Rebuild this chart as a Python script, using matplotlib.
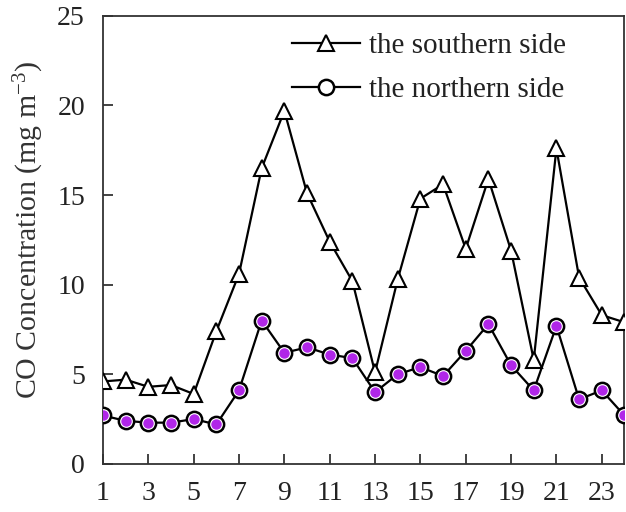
import matplotlib
matplotlib.use("Agg")
import matplotlib.pyplot as plt

hours = list(range(1, 25))
southern = [4.6, 4.7, 4.3, 4.4, 3.9, 7.4, 10.6, 16.5, 19.7, 15.1, 12.4, 10.2,
            5.1, 10.3, 14.8, 15.6, 12.0, 15.9, 11.9, 5.8, 17.6, 10.4, 8.3, 7.9]
northern = [2.7, 2.4, 2.3, 2.3, 2.5, 2.2, 4.1, 8.0, 6.2, 6.5, 6.1, 5.9,
            4.0, 5.0, 5.4, 4.9, 6.3, 7.8, 5.5, 4.1, 7.7, 3.6, 4.1, 2.7]
xticks = list(range(1, 24, 2))
yticks = [0, 5, 10, 15, 20, 25]

plt.rcParams['font.family'] = ['Liberation Serif', 'DejaVu Serif']
plt.rcParams['mathtext.fontset'] = 'custom'
plt.rcParams['mathtext.rm'] = 'Liberation Serif'
plt.rcParams['mathtext.it'] = 'Liberation Serif:italic'

fig = plt.figure(figsize=(6.26, 5.12), dpi=100)
ax = fig.add_axes([0.1645, 0.094, 0.833, 0.875])

ax.plot(hours, southern, color='black', lw=1.6, marker='^', ms=12,
        mfc='white', mec='black', mew=1.5, label='the southern side', zorder=3)
ax.plot(hours, northern, color='black', lw=1.6, marker='o', ms=11,
        mfc='white', mec='black', mew=1.8, label='the northern side', zorder=3)
ax.plot(hours, northern, ls='none', marker='o', ms=6.5, mfc='#b026e8',
        mec='#b026e8', zorder=4)

ax.set_xlim(1, 24)
ax.set_ylim(0, 25)
ax.set_xticks(xticks)
ax.set_yticks(yticks)
ax.tick_params(direction='in', length=7, width=1.2, labelsize=20, pad=13,
               colors='#222222')
ax.tick_params(axis='x', pad=12)
for s in ax.spines.values():
    s.set_linewidth(1.3)
    s.set_color('#333333')
ax.set_ylabel('CO Concentration (mg m$^{-3}$)', fontsize=21.5, color='#333333',
              labelpad=8)
ax.yaxis.label.set_y(0.522)

leg = ax.legend(loc='upper left', frameon=False, fontsize=21,
                handlelength=2.35, handletextpad=0.3, labelspacing=0.6,
                bbox_to_anchor=(0.362, 0.963), borderaxespad=0, borderpad=0)
for t in leg.get_texts():
    t.set_color('#222222')

fig.savefig('out.png', dpi=100)
